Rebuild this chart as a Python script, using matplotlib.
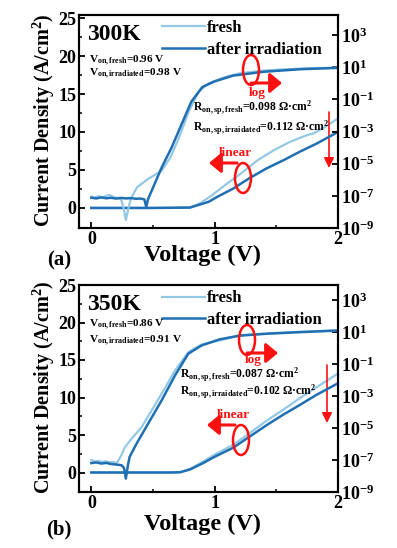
import matplotlib
matplotlib.use("Agg")
import matplotlib.pyplot as plt
from matplotlib.patches import Ellipse
import numpy as np

plt.rcParams['font.family'] = ['Liberation Serif', 'DejaVu Serif']
plt.rcParams['font.weight'] = 'bold'
plt.rcParams['axes.labelweight'] = 'bold'
plt.rcParams['mathtext.fontset'] = 'custom'
plt.rcParams['mathtext.rm'] = 'Liberation Serif:bold'
plt.rcParams['mathtext.it'] = 'Liberation Serif:italic:bold'
plt.rcParams['mathtext.bf'] = 'Liberation Serif:bold'

FRESH = '#94c8e4'
IRR = '#1f6fb2'
RED = '#ff1010'

# ---- (a) 300 K ----
v_log_fresh_a = [0, 0.03, 0.06, 0.09, 0.12, 0.15, 0.18, 0.21, 0.24, 0.26, 0.28, 0.30, 0.32,
                 0.37, 0.46, 0.57, 0.64, 0.71, 0.79, 0.87, 0.95, 1.08, 1.2, 1.4, 1.7, 2.0]
logj_fresh_a = [-7.05, -7.10, -7.02, -7.08, -7.0, -6.95, -7.08, -7.12, -7.2, -7.7, -8.5, -7.8, -7.18,
                -6.47, -5.95, -5.44, -4.63, -3.4, -1.76, -0.53, 0.0, 0.38, 0.62, 0.8, 0.92, 0.98]
v_log_irr_a = [0, 0.04, 0.08, 0.12, 0.16, 0.2, 0.24, 0.28, 0.32, 0.36, 0.40, 0.43, 0.445, 0.46,
               0.49, 0.57, 0.65, 0.73, 0.81, 0.90, 1.0, 1.15, 1.4, 1.7, 2.0]
logj_irr_a = [-7.12, -7.16, -7.10, -7.15, -7.12, -7.17, -7.13, -7.16, -7.14, -7.18, -7.17, -7.22, -7.69, -7.2,
              -6.67, -5.24, -4.01, -2.58, -1.15, -0.23, 0.12, 0.48, 0.72, 0.88, 0.96]
v_lin_fresh_a = [0, 0.5, 0.8, 0.88, 0.96, 1.1, 1.21, 1.35, 1.48, 1.61, 1.75, 1.8, 1.9, 2.0]
j_lin_fresh_a = [0, 0, 0.05, 0.6, 1.45, 3.2, 4.5, 6.3, 7.6, 8.7, 9.6, 9.8, 10.7, 11.8]
v_lin_irr_a = [0, 0.5, 0.8, 0.88, 0.95, 1.02, 1.15, 1.28, 1.42, 1.56, 1.69, 1.83, 2.0]
j_lin_irr_a = [0, 0, 0.05, 0.45, 0.8, 1.45, 2.55, 3.9, 5.2, 6.3, 7.4, 8.5, 10.0]

# ---- (b) 350 K ----
v_log_fresh_b = [0, 0.03, 0.06, 0.09, 0.12, 0.15, 0.18, 0.205, 0.24, 0.273, 0.327, 0.408, 0.489,
                 0.57, 0.678, 0.786, 0.894, 1.08, 1.2, 1.42, 1.69, 2.0]
logj_fresh_b = [-7.0, -7.1, -7.05, -7.12, -7.08, -7.15, -7.12, -7.2, -6.75, -6.19, -5.66, -4.94, -3.9,
                -2.85, -1.4, -0.25, 0.23, 0.55, 0.8, 0.92, 1.02, 1.12]
v_log_irr_b = [0, 0.04, 0.08, 0.12, 0.16, 0.2, 0.246, 0.265, 0.28, 0.295, 0.31, 0.367, 0.46, 0.57,
               0.678, 0.786, 0.894, 1.04, 1.2, 1.42, 1.69, 2.0]
logj_irr_b = [-7.19, -7.15, -7.22, -7.18, -7.25, -7.28, -7.33, -7.5, -8.16, -7.4, -6.81, -5.97, -4.73, -3.27,
              -1.71, -0.35, 0.17, 0.55, 0.78, 0.9, 1.0, 1.1]
v_lin_b = [0, 0.65, 0.72, 0.8, 0.9, 1.0, 1.15, 1.28, 1.42, 1.55, 1.69, 1.82, 2.0]
j_lin_fresh_b = [0, 0, 0.05, 0.5, 1.4, 2.4, 3.7, 5.2, 6.9, 8.3, 9.9, 11.3, 13.2]
j_lin_irr_b = [0, 0, 0.03, 0.4, 1.2, 2.1, 3.3, 4.75, 6.3, 7.65, 9.0, 10.3, 11.9]

log_ticks = [-9, -7, -5, -3, -1, 1, 3]

W, H = 397, 548
fig = plt.figure(figsize=(W / 100, H / 100), dpi=100)


def fx(px):
    return px / W


def fy(py):
    return 1 - py / H


def red_arrow(ax, x0, x1, y0, y1, big=True):
    if big:
        props = dict(arrowstyle='-|>,head_length=0.6,head_width=0.5', color=RED, lw=2.2,
                     mutation_scale=12, shrinkA=0, shrinkB=0)
    else:
        props = dict(arrowstyle='-|>,head_length=0.6,head_width=0.3', color=RED, lw=1.2,
                     mutation_scale=10, shrinkA=0, shrinkB=0)
    ax.annotate('', xy=(fx(x1), fy(y1)), xytext=(fx(x0), fy(y0)),
                xycoords='figure fraction', arrowprops=props)


def panel(rect, ylim, logtop, curves, temp, von, ron, oy, ron_x, ell):
    ax = fig.add_axes(rect)
    ax2 = ax.twinx()
    (vlf, jlf, vli, jli, vgf, lgf, vgi, lgi) = curves
    ax.plot(vlf, jlf, color=FRESH, lw=1.6, zorder=3)
    ax.plot(vli, jli, color=IRR, lw=1.8, zorder=4)
    ax2.plot(vgf, 10.0 ** np.array(lgf), color=FRESH, lw=1.6)
    ax2.plot(vgi, 10.0 ** np.array(lgi), color=IRR, lw=1.8)
    ax.set_xlim(-0.1, 2.0)
    ax.set_ylim(*ylim)
    ax2.set_yscale('log')
    ax2.set_ylim(1e-9, 10 ** logtop)
    ax.set_xticks([0, 1, 2])
    ax.set_xticks([0.5, 1.5], minor=True)
    ax.set_yticks([0, 5, 10, 15, 20, 25])
    ax.set_yticks([2.5, 7.5, 12.5, 17.5, 22.5], minor=True)
    ax2.set_yticks([10.0 ** e for e in log_ticks])
    ax2.set_yticklabels(['10$^{%d}$' % e for e in log_ticks])
    ax2.yaxis.set_minor_locator(matplotlib.ticker.NullLocator())
    for a in (ax, ax2):
        for s in a.spines.values():
            s.set_linewidth(1.5)
        a.tick_params(direction='in', width=1.3, length=4, labelsize=13, pad=2)
        a.tick_params(which='minor', direction='in', width=1.1, length=2.5)

    # legend
    h1, = ax.plot([], [], color=FRESH, lw=1.6)
    h2, = ax.plot([], [], color=IRR, lw=1.8)
    ax.legend([h1, h2], ['fresh', 'after irradiation'], loc='upper left',
              bbox_to_anchor=((150 - 79) / 259, 1.03), frameon=False, fontsize=12,
              handlelength=2.6, handletextpad=0.12, labelspacing=0.32, borderpad=0.2)

    fig.text(fx(87), fy(oy + 35), temp, fontsize=17, va='center', ha='left')
    fig.text(fx(89), fy(oy + von[0][1]), von[0][0], fontsize=8.1, va='center')
    fig.text(fx(89), fy(oy + von[1][1]), von[1][0], fontsize=8.1, va='center')
    fig.text(fx(ron_x), fy(oy + ron[0][1]), ron[0][0], fontsize=8.4, va='center')
    fig.text(fx(ron_x), fy(oy + ron[1][1]), ron[1][0], fontsize=8.4, va='center')

    # red annotations
    (lx, ly, lt), (nx, ny), (vx, vy0, vy1) = ell
    for (cx, cy) in ((lx, ly), (nx, ny)):
        fig.patches.append(Ellipse((fx(cx), fy(oy + cy)), 16 / W, 30 / H, fill=False,
                                   ec=RED, lw=1.8, transform=fig.transFigure))
    red_arrow(ax, lx, lx + 31, oy + ly + 13, oy + ly + 13)
    fig.text(fx(lx + 6), fy(oy + ly + lt), 'log', color=RED, fontsize=9.5, ha='center', va='center')
    red_arrow(ax, nx - 6, nx - 34, oy + ny - 15, oy + ny - 15)
    fig.text(fx(nx - 8), fy(oy + ny - 25), 'linear', color=RED, fontsize=9.5, ha='center', va='center')
    red_arrow(ax, vx, vx, oy + vy0, oy + vy1, big=False)
    return ax


ax_a = panel([79 / W, 1 - 228 / H, 259 / W, 213 / H], (-2.64, 25.4), 4.25,
             (v_lin_fresh_a, j_lin_fresh_a, v_lin_irr_a, j_lin_irr_a,
              v_log_fresh_a, logj_fresh_a, v_log_irr_a, logj_irr_a),
             '300K',
             [(r'V$_{\rm on,fresh}$=0.96 V', 61), (r'V$_{\rm on,irradiated}$=0.98 V', 74)],
             [(r'R$_{\rm on,sp,fresh}$=0.098 Ω·cm$^{2}$', 108),
              (r'R$_{\rm on,sp,irraidated}$=0.112 Ω·cm$^{2}$', 128)],
             0, 193, ((251, 70, 23), (243, 178), (329, 112, 168)))

ax_b = panel([79 / W, 1 - 492 / H, 259 / W, 207 / H], (-2.6, 25.0), 3.95,
             (v_lin_b, j_lin_fresh_b, v_lin_b, j_lin_irr_b,
              v_log_fresh_b, logj_fresh_b, v_log_irr_b, logj_irr_b),
             '350K',
             [(r'V$_{\rm on,fresh}$=0.86 V', 55), (r'V$_{\rm on,irradiated}$=0.91 V', 71)],
             [(r'R$_{\rm on,sp,fresh}$=0.087 Ω·cm$^{2}$', 105),
              (r'R$_{\rm on,sp,irraidated}$=0.102 Ω·cm$^{2}$', 122)],
             270, 180, ((247, 70, 20), (241, 170), (327, 95, 153)))

for yc, lab, yv in ((120, '(a)', 255), (387, '(b)', 524)):
    fig.text(fx(44), fy(yc), 'Current Density (A/cm$^{2}$)', rotation=90, fontsize=14.5,
             ha='center', va='center')
    fig.text(fx(203), fy(yv), 'Voltage (V)', fontsize=17.5, ha='center', va='center')
    fig.text(fx(59), fy(yv + 5), lab, fontsize=15, ha='center', va='center')

fig.savefig('out.png', dpi=100)
